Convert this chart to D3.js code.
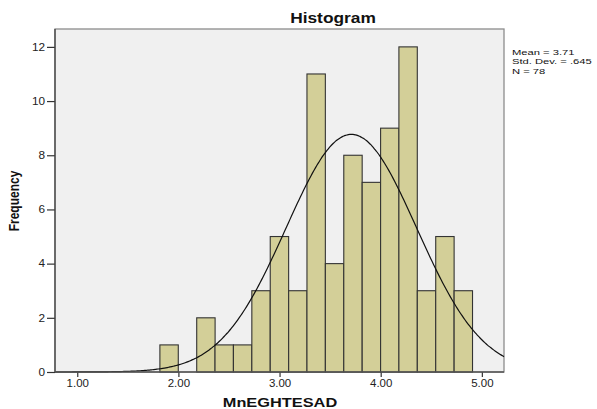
<!DOCTYPE html>
<html>
<head>
<meta charset="utf-8">
<script src="https://cdn.jsdelivr.net/npm/d3@7"></script>
<style>
  body { margin: 0; background: #fff; }
  text { font-family: "Liberation Sans", Arial, sans-serif; }
</style>
</head>
<body>
<svg id="chart" width="597" height="409"></svg>
<script>
// histogram bins (lower edge) and counts
let binLower = [1.817, 1.999, 2.181, 2.362, 2.544, 2.726, 2.908, 3.090, 3.271,
                3.453, 3.635, 3.817, 3.999, 4.180, 4.362, 4.544, 4.726];
let binWidth = 0.1818;
let counts = [1, 0, 2, 1, 1, 3, 5, 3, 11, 4, 8, 7, 9, 12, 3, 5, 3];

let xTicks = [1, 2, 3, 4, 5];
let yTicks = [0, 2, 4, 6, 8, 10, 12];

let stats = { mean: 3.71, sd: 0.645, n: 78 };
let statLines = ["Mean = 3.71", "Std. Dev. = .645", "N = 78"];

let svg = d3.select("#chart");
let plot = { left: 55, right: 504, top: 29, bottom: 372 };

let xScale = d3.scaleLinear().domain([0.78, 5.219]).range([plot.left, plot.right]);
let yScale = d3.scaleLinear().domain([0, 12.66]).range([plot.bottom, plot.top]);

// plot background
svg.append("rect")
    .attr("x", plot.left).attr("y", plot.top)
    .attr("width", plot.right - plot.left).attr("height", plot.bottom - plot.top)
    .attr("fill", "#f0f0f0")
    .attr("stroke", "#8c8c8c")
    .attr("stroke-width", 1.3);

let bins = binLower.map((lo, i) => ({ lo: lo, hi: lo + binWidth, count: counts[i] }))
    .filter(d => d.count > 0);

svg.append("g").selectAll("rect").data(bins).enter()
    .append("rect")
    .attr("x", d => xScale(d.lo))
    .attr("y", d => yScale(d.count))
    .attr("width", d => xScale(d.hi) - xScale(d.lo))
    .attr("height", d => yScale(0) - yScale(d.count))
    .attr("fill", "#d3cf98")
    .attr("stroke", "#333")
    .attr("stroke-width", 1.1);

// fitted normal curve
let scaleN = stats.n * binWidth / (stats.sd * Math.sqrt(2 * Math.PI));
let curveXs = d3.range(0, 301).map(i => xScale.domain()[0] + i * (xScale.domain()[1] - xScale.domain()[0]) / 300);
let line = d3.line()
    .x(x => xScale(x))
    .y(x => yScale(scaleN * Math.exp(-0.5 * Math.pow((x - stats.mean) / stats.sd, 2))))
    .curve(d3.curveBasis);
svg.append("path")
    .datum(curveXs)
    .attr("d", line)
    .attr("fill", "none")
    .attr("stroke", "#111")
    .attr("stroke-width", 1.2);

// axes
let yAxis = svg.append("g")
    .attr("transform", `translate(${plot.left},0)`)
    .call(d3.axisLeft(yScale).tickValues(yTicks).tickFormat(d3.format("d")).tickSize(8).tickPadding(2));
let xAxis = svg.append("g")
    .attr("transform", `translate(0,${plot.bottom})`)
    .call(d3.axisBottom(xScale).tickValues(xTicks).tickFormat(d3.format(".2f")).tickSize(5).tickPadding(3));

for (let ax of [xAxis, yAxis]) {
    ax.select(".domain").remove();
    ax.selectAll("line").attr("stroke", "#333").attr("stroke-width", 1.2);
    ax.selectAll("text")
        .attr("font-size", "10px")
        .attr("fill", "#222")
        .style("font-family", "Liberation Sans, Arial, sans-serif");
}
// stretch tick labels horizontally like the reference
yAxis.selectAll(".tick text")
    .attr("transform", "scale(1.18,1)")
    .attr("x", -10 / 1.18);
xAxis.selectAll(".tick text")
    .attr("transform", "scale(1.15,1)");

// axis lines
svg.append("line")
    .attr("x1", plot.left).attr("x2", plot.left)
    .attr("y1", plot.top).attr("y2", plot.bottom)
    .attr("stroke", "#444").attr("stroke-width", 1.3);
svg.append("line")
    .attr("x1", plot.left).attr("x2", plot.right)
    .attr("y1", plot.bottom).attr("y2", plot.bottom)
    .attr("stroke", "#555").attr("stroke-width", 1.3);

// titles
svg.append("text")
    .attr("transform", "translate(333,23) scale(1.24,1)")
    .attr("text-anchor", "middle")
    .attr("font-size", "14px")
    .attr("font-weight", "bold")
    .attr("fill", "#111")
    .text("Histogram");

svg.append("text")
    .attr("transform", "translate(280,407) scale(1.33,1)")
    .attr("text-anchor", "middle")
    .attr("font-size", "12.3px")
    .attr("font-weight", "bold")
    .attr("fill", "#111")
    .text("MnEGHTESAD");

svg.append("text")
    .attr("transform", "translate(19,201) scale(1.28,1) rotate(-90)")
    .attr("text-anchor", "middle")
    .attr("font-size", "12px")
    .attr("font-weight", "bold")
    .attr("fill", "#111")
    .text("Frequency");

svg.append("g").selectAll("text").data(statLines).enter()
    .append("text")
    .attr("transform", (d, i) => `translate(512,${55 + i * 9.3}) scale(1.4,1)`)
    .attr("font-size", "8px")
    .attr("fill", "#111")
    .text(d => d);
</script>
</body>
</html>
